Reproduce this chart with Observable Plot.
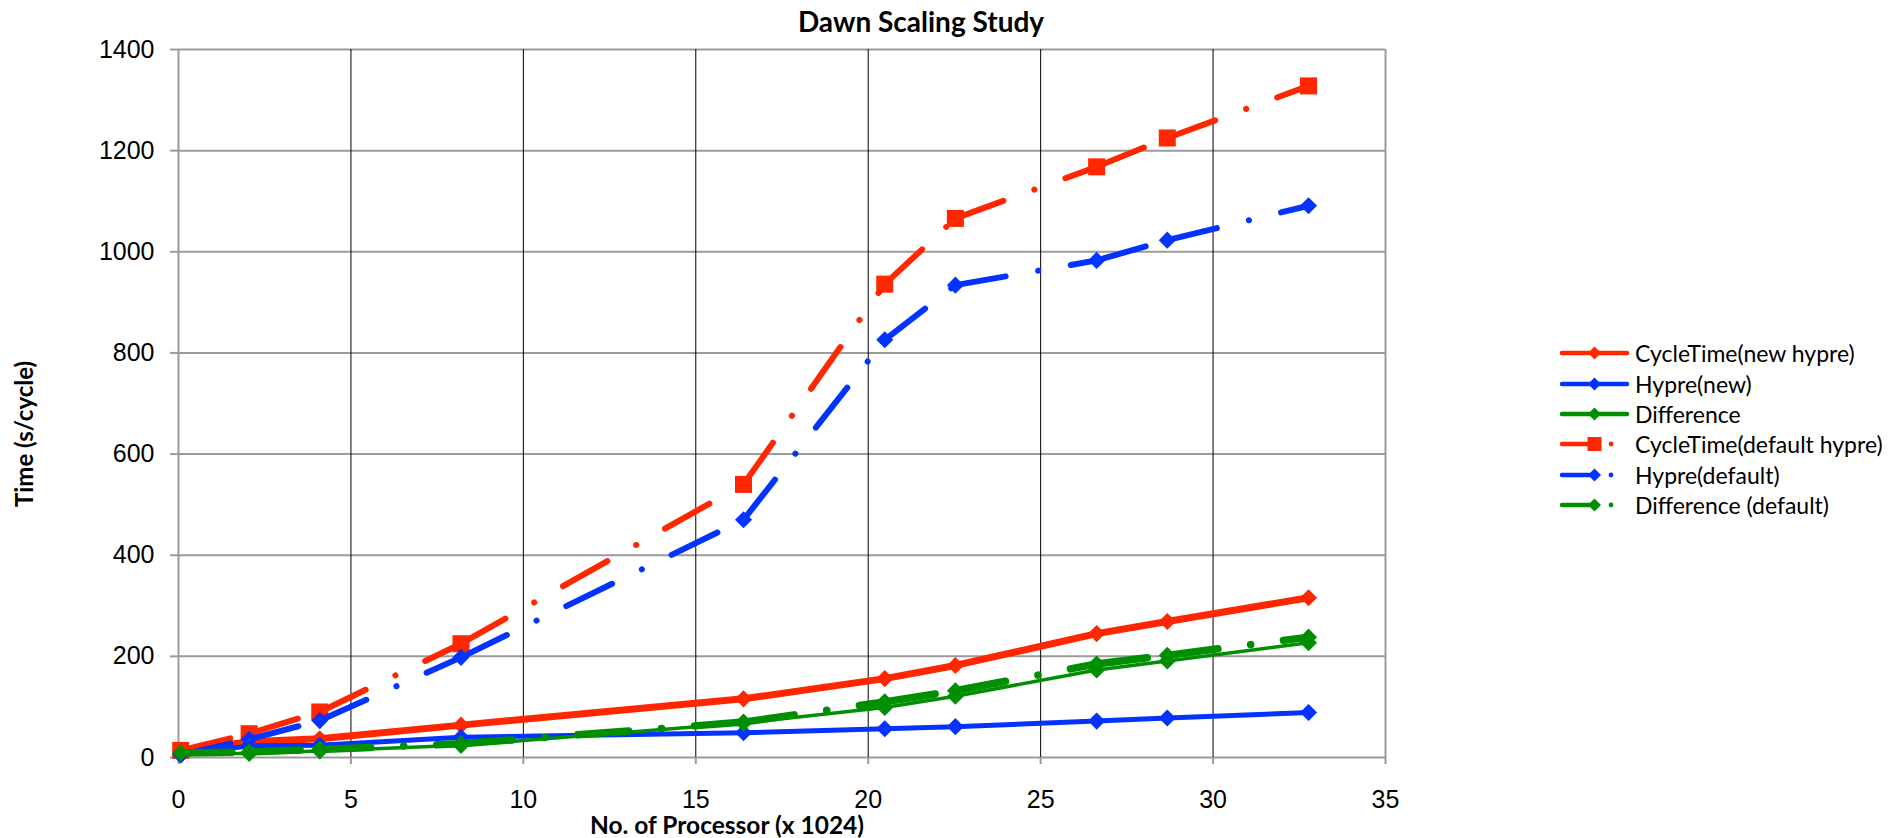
<!DOCTYPE html>
<html>
<head>
<meta charset="utf-8">
<script src="https://cdn.jsdelivr.net/npm/d3@7"></script>
<script src="https://cdn.jsdelivr.net/npm/@observablehq/plot@0.6"></script>
<style>
  html, body { margin: 0; padding: 0; background: #fff; }
  #wrap { position: relative; width: 1902px; height: 838px; overflow: hidden; background: #fff; }
  #wrap > svg { position: absolute; left: 0; top: 0; }
  .title { position: absolute; left: 0; width: 1842px; top: 7px; text-align: center;
           font: 700 28px Lato, "Open Sans", sans-serif; line-height: 28px; color: #000; white-space: nowrap; }
  .ylab { position: absolute; left: 24px; top: 434px; transform: translate(-50%, -50%) rotate(-90deg);
          font: 700 24px Lato, "Open Sans", sans-serif; line-height: 24px; white-space: nowrap; }
  .xlab { position: absolute; left: 727px; top: 816px; transform: translateX(-50%);
          font: 700 24.5px Lato, "Open Sans", sans-serif; line-height: 18px; white-space: nowrap; }
  .legend { position: absolute; left: 1560px; top: 338px; font: 400 23px Lato, "Open Sans", sans-serif; }
  .legend .row { display: flex; align-items: center; height: 30.4px; }
  .legend svg { display: block; flex: none; }
  .legend span { white-space: nowrap; line-height: 30px; }
</style>
</head>
<body>
<div id="wrap"></div>
<script>
// ---- data ----
const processors = [0.064, 2.048, 4.096, 8.192, 16.384, 20.48, 22.528, 26.624, 28.672, 32.768]; // x 1024
const cycleTimeNew = [13, 31, 37, 64, 116, 156, 182, 245, 269, 316];
const hypreNew     = [5, 23, 24, 40, 49, 57, 61, 72, 78, 89];
const diffNew      = [8, 8, 13, 24, 68, 99, 121, 173, 191, 227];
const cycleTimeDef = [14, 47, 90, 225, 540, 936, 1066, 1168, 1225, 1328];
const hypreDef     = [5, 36, 73, 198, 470, 826, 934, 983, 1023, 1091];
const diffDef      = [9, 11, 16, 27, 70, 110, 132, 185, 202, 238];
const seriesNames = ["CycleTime(new hypre)", "Hypre(new)", "Difference",
                     "CycleTime(default hypre)", "Hypre(default)", "Difference (default)"];
const xTicks = [0, 5, 10, 15, 20, 25, 30, 35];
const yTicks = [0, 200, 400, 600, 800, 1000, 1200, 1400];
const titleText = "Dawn Scaling Study";
const xLabel = "No. of Processor (x 1024)";
const yLabel = "Time (s/cycle)";

// ---- styles ----
const RED = "#FF2600", BLUE = "#0433FF", GREEN = "#008F00", GRID = "#9B9B9B";
const DASH = "51,33,0.1,33";

const pts = (vals) => processors.map((x, i) => ({x, y: vals[i]}));
// split into per-segment paths so the dash pattern restarts at every point (as in the source)
const segs = (vals) => {
  const out = [];
  for (let i = 0; i < processors.length - 1; i++) {
    out.push({x: processors[i], y: vals[i], seg: i}, {x: processors[i + 1], y: vals[i + 1], seg: i});
  }
  return out;
};

const specs = [
  {vals: cycleTimeNew, color: RED,   width: 7,   dashed: false, symbol: "diamond2", r: 7.7},
  {vals: hypreNew,     color: BLUE,  width: 5,   dashed: false, symbol: "diamond2", r: 7.7},
  {vals: diffNew,      color: GREEN, width: 3.5, dashed: false, symbol: "diamond2", r: 7.7},
  {vals: cycleTimeDef, color: RED,   width: 6,   dashed: true,  symbol: "square",   r: 9.6},
  {vals: hypreDef,     color: BLUE,  width: 6,   dashed: true,  symbol: "diamond2", r: 7.7},
  {vals: diffDef,      color: GREEN, width: 7.5, dashed: true,  symbol: "diamond2", r: 7.7}
];

const seriesMarks = specs.flatMap(s => [
  s.dashed
    ? Plot.line(segs(s.vals), {x: "x", y: "y", z: "seg", stroke: s.color, strokeWidth: s.width,
        strokeDasharray: DASH, strokeLinecap: "round", strokeLinejoin: "round"})
    : Plot.line(pts(s.vals), {x: "x", y: "y", stroke: s.color, strokeWidth: s.width,
        strokeLinecap: "round", strokeLinejoin: "round"}),
  Plot.dot(pts(s.vals), {x: "x", y: "y", symbol: s.symbol, r: s.r, fill: s.color, stroke: "none"})
]);

const chart = Plot.plot({
  width: 1902,
  height: 838,
  marginLeft: 178,
  marginRight: 517,
  marginTop: 49,
  marginBottom: 81,
  style: {fontFamily: "'Liberation Sans', Arial, sans-serif", fontSize: "25px", background: "#fff", color: "#000"},
  x: {domain: [0, 35]},
  y: {domain: [0, 1400]},
  marks: [
    Plot.ruleY(yTicks, {stroke: GRID, strokeWidth: 2}),
    Plot.ruleX(xTicks.filter(t => t > 0 && t < 35), {stroke: "#000", strokeWidth: 1}),
    Plot.ruleX([0, 35], {stroke: GRID, strokeWidth: 2}),
    Plot.axisX({ticks: xTicks, tickSize: 7, tickPadding: 26, stroke: GRID, strokeWidth: 2, fill: "#000",
                label: null, fontSize: 25, tickFormat: d => String(d)}),
    Plot.axisY({ticks: yTicks, tickSize: 8, tickPadding: 16, stroke: GRID, strokeWidth: 2, fill: "#000",
                label: null, fontSize: 25, tickFormat: d => String(d)}),
    ...seriesMarks
  ]
});

const wrap = document.getElementById("wrap");
wrap.appendChild(chart);

const t = document.createElement("div"); t.className = "title"; t.textContent = titleText; wrap.appendChild(t);
const yl = document.createElement("div"); yl.className = "ylab"; yl.textContent = yLabel; wrap.appendChild(yl);
const xl = document.createElement("div"); xl.className = "xlab"; xl.textContent = xLabel; wrap.appendChild(xl);

// legend
const legend = document.createElement("div"); legend.className = "legend";
const NS = "http://www.w3.org/2000/svg";
specs.forEach((s, i) => {
  const row = document.createElement("div"); row.className = "row";
  const sv = document.createElementNS(NS, "svg");
  sv.setAttribute("width", 75); sv.setAttribute("height", 30);
  const line = document.createElementNS(NS, "line");
  line.setAttribute("x1", 2); line.setAttribute("y1", 15);
  line.setAttribute("x2", s.dashed ? 34 : 67); line.setAttribute("y2", 15);
  line.setAttribute("stroke", s.color); line.setAttribute("stroke-width", 4.5);
  line.setAttribute("stroke-linecap", "round");
  sv.appendChild(line);
  let m;
  if (s.symbol === "square") {
    m = document.createElementNS(NS, "rect");
    m.setAttribute("x", 27.5); m.setAttribute("y", 8); m.setAttribute("width", 14); m.setAttribute("height", 14);
  } else {
    m = document.createElementNS(NS, "path");
    m.setAttribute("d", "M34.5,8.5L41,15L34.5,21.5L28,15Z");
  }
  m.setAttribute("fill", s.color);
  sv.appendChild(m);
  if (s.dashed) {
    const c = document.createElementNS(NS, "circle");
    c.setAttribute("cx", 51); c.setAttribute("cy", 15); c.setAttribute("r", 2.4); c.setAttribute("fill", s.color);
    sv.appendChild(c);
  }
  row.appendChild(sv);
  const sp = document.createElement("span"); sp.textContent = seriesNames[i];
  row.appendChild(sp);
  legend.appendChild(row);
});
wrap.appendChild(legend);
</script>
</body>
</html>
